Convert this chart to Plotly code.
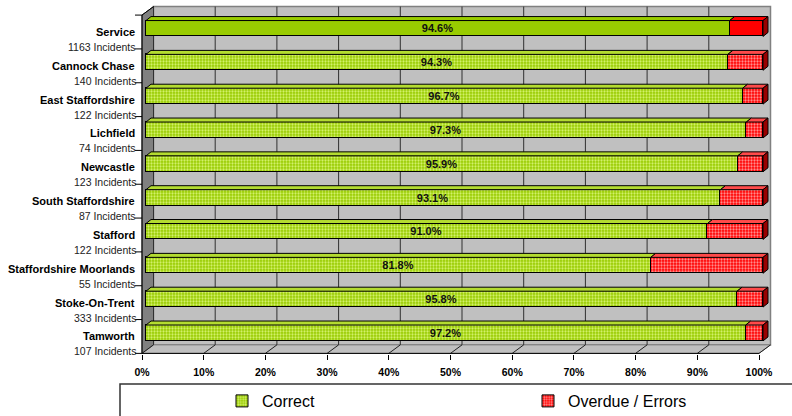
import plotly.graph_objects as go

# ---- data ---------------------------------------------------------------
areas = ["Service", "Cannock Chase", "East Staffordshire", "Lichfield", "Newcastle",
         "South Staffordshire", "Stafford", "Staffordshire Moorlands",
         "Stoke-On-Trent", "Tamworth"]
incidents = [1163, 140, 122, 74, 123, 87, 122, 55, 333, 107]
correct_pct = [94.6, 94.3, 96.7, 97.3, 95.9, 93.1, 91.0, 81.8, 95.8, 97.2]
overdue_pct = [round(100 - c, 1) for c in correct_pct]
x_ticks = [0, 10, 20, 30, 40, 50, 60, 70, 80, 90, 100]

# ---- pseudo-3D geometry (pixel offsets converted to data units) ---------
XPX = 6.17    # pixels per percent
YPX = 33.83   # pixels per category
def ox(px):
    return px / XPX
def oy(px):
    return px / YPX

FRONT = (ox(-4), oy(3.5))    # front plane (axes) relative to bar faces
BACK = (ox(7.5), oy(-5))     # back wall relative to bar faces
DEPTH = (ox(5), oy(-4))      # bar depth
BAR_W = 0.47

n = len(areas)
pos = list(range(n))
top_b, bot_b = -0.5, n - 0.5

GREEN, GREEN_LT = "#99CC00", "#D2F06A"
RED, RED_LT = "#FF0000", "#FF8C8C"
FONT = "Arial, Liberation Sans, sans-serif"

shapes = []
def poly(pts, fill, line="black", width=1, layer="above"):
    d = "M " + " L ".join(f"{x},{y}" for x, y in pts) + " Z"
    shapes.append(dict(type="path", path=d, xref="x", yref="y", fillcolor=fill,
                       line=dict(color=line, width=width), layer=layer))
def seg(x0, y0, x1, y1, color="black", width=1, layer="below"):
    shapes.append(dict(type="line", x0=x0, y0=y0, x1=x1, y1=y1, xref="x", yref="y",
                       line=dict(color=color, width=width), layer=layer))

# walls and floor
poly([(BACK[0], top_b + BACK[1]), (100 + BACK[0], top_b + BACK[1]),
      (100 + BACK[0], bot_b + BACK[1]), (BACK[0], bot_b + BACK[1])],
     "#C0C0C0", line="#808080", width=1.5, layer="below")
poly([(FRONT[0], top_b + FRONT[1]), (BACK[0], top_b + BACK[1]),
      (BACK[0], bot_b + BACK[1]), (FRONT[0], bot_b + FRONT[1])],
     "#808080", line="#404040", width=1, layer="below")
poly([(FRONT[0], bot_b + FRONT[1]), (BACK[0], bot_b + BACK[1]),
      (100 + BACK[0], bot_b + BACK[1]), (100 + FRONT[0], bot_b + FRONT[1])],
     "#C0C0C0", line="#808080", width=1, layer="below")

# gridlines on the back wall and the floor
for k in x_ticks[:-1]:
    seg(k + BACK[0], top_b + BACK[1], k + BACK[0], bot_b + BACK[1], "#303030")
for k in x_ticks:
    seg(k + BACK[0], bot_b + BACK[1], k + FRONT[0], bot_b + FRONT[1], "#202020")

# axes lines and category ticks
seg(FRONT[0], bot_b + FRONT[1], 100 + FRONT[0], bot_b + FRONT[1])
seg(FRONT[0], top_b + FRONT[1], FRONT[0], bot_b + FRONT[1])
seg(FRONT[0], top_b + FRONT[1], BACK[0], top_b + BACK[1])
for b in range(n + 1):
    yb = top_b + b + FRONT[1]
    seg(FRONT[0] - ox(7), yb, FRONT[0], yb)

# bar top and end faces
for i, (c, o) in enumerate(zip(correct_pct, overdue_pct)):
    yt = i - BAR_W / 2
    yb_ = i + BAR_W / 2
    solid = (i == 0)
    g_top = GREEN if solid else "#B4DC30"
    r_top = RED if solid else "#FF4A4A"
    poly([(0, yt), (c, yt), (c + DEPTH[0], yt + DEPTH[1]), (DEPTH[0], yt + DEPTH[1])], g_top)
    poly([(c, yt), (c + o, yt), (c + o + DEPTH[0], yt + DEPTH[1]), (c + DEPTH[0], yt + DEPTH[1])], r_top)
    poly([(c + o, yt), (c + o + DEPTH[0], yt + DEPTH[1]),
          (c + o + DEPTH[0], yb_ + DEPTH[1]), (c + o, yb_)], "#990000")

# ---- bars (listed bottom-up so the legend swatch shows the textured fill)
rev = lambda a: list(a)[::-1]
shape_arr = ["" if i == 0 else "." for i in pos]

fig = go.Figure()
fig.add_trace(go.Bar(
    name="Correct", orientation="h", y=rev(pos), x=rev(correct_pct), width=BAR_W,
    text=rev([f"{v:.1f}%" for v in correct_pct]), textposition="inside",
    insidetextanchor="middle", textangle=0,
    textfont=dict(family=FONT, size=11, color="#111111", weight="bold"),
    marker=dict(color=GREEN, line=dict(color="black", width=1),
                pattern=dict(shape=rev(shape_arr), bgcolor=GREEN, fgcolor=GREEN_LT,
                             size=3, solidity=0.45, fillmode="replace")),
    hoverinfo="skip", legend="legend",
))
fig.add_trace(go.Bar(
    name="Overdue / Errors", orientation="h", y=rev(pos), x=rev(overdue_pct), width=BAR_W,
    marker=dict(color=RED, line=dict(color="black", width=1),
                pattern=dict(shape=rev(shape_arr), bgcolor=RED, fgcolor=RED_LT,
                             size=3, solidity=0.45, fillmode="replace")),
    hoverinfo="skip", legend="legend2",
))

# category labels
annotations = []
for i, (a, cnt) in enumerate(zip(areas, incidents)):
    annotations.append(dict(x=0, xref="paper", y=i + oy(3.5), yref="y", text=f"<b>{a}</b>",
                            showarrow=False, xanchor="right", xshift=2,
                            font=dict(family=FONT, size=11, color="black")))
    annotations.append(dict(x=0, xref="paper", y=i + oy(18.5), yref="y",
                            text=f"{cnt} Incidents", showarrow=False, xanchor="right",
                            xshift=3, font=dict(family=FONT, size=10.5, color="#222222")))

# legend frame
shapes.append(dict(type="rect", xref="paper", yref="paper", x0=-15 / 650, x1=1.2,
                   y0=-0.5, y1=-30 / 354, line=dict(color="#333333", width=1.5),
                   fillcolor="rgba(0,0,0,0)", layer="above"))

legend_common = dict(orientation="h", yanchor="top", y=-30 / 354, xanchor="left",
                     font=dict(family=FONT, size=16, color="black"),
                     bgcolor="rgba(0,0,0,0)", itemclick=False, itemdoubleclick=False,
                     itemwidth=30)

fig.update_layout(
    width=792, height=416,
    margin=dict(l=135, r=7, t=0, b=62, autoexpand=False),
    paper_bgcolor="white", plot_bgcolor="white",
    barmode="stack", bargap=0,
    uniformtext=dict(minsize=11, mode="show"),
    shapes=shapes, annotations=annotations,
    font=dict(family=FONT, color="black"),
    xaxis=dict(range=[ox(-11), ox(639)], showgrid=False, zeroline=False, showline=False,
               tickmode="array", tickvals=[k + FRONT[0] for k in x_ticks],
               ticktext=[f"{k}%" for k in x_ticks], ticks="outside", ticklen=5,
               tickcolor="black", tickwidth=1, ticklabelstandoff=3,
               tickfont=dict(family=FONT, size=10.5, color="black", weight="bold"),
               fixedrange=True),
    yaxis=dict(range=[oy(354 - 28.5), oy(-28.5)], showgrid=False, zeroline=False,
               showline=False, showticklabels=False, ticks="", fixedrange=True),
    legend=dict(x=(222 - 135) / 650, **legend_common),
    legend2=dict(x=(528 - 135) / 650, **legend_common),
    showlegend=True,
)

fig.write_html("out.html")
